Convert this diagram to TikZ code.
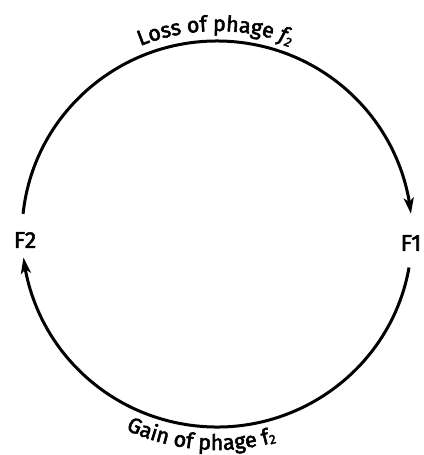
\documentclass[tikz,border=0pt]{standalone}
\usepackage{fontspec}
\setmainfont{Fira Sans}
\newfontfamily\medfont{Fira Sans}[FakeBold=2.5]
\usetikzlibrary{arrows.meta,decorations.text,bending,calc}
\begin{document}
\begin{tikzpicture}[x=1pt,y=1pt,
  cyc/.style={line width=3pt, -{Stealth[length=16pt,width=10pt,inset=4pt]}},
  lbl/.style={font=\medfont\fontsize{23}{26}\selectfont, inner sep=0pt}]
\useasboundingbox (0,0) rectangle (423,455);
\coordinate (C) at (217,221);
\node[lbl] (F2) at (25,215) {F2};
\node[lbl] (F1) at (411,212) {F1};
\coordinate (topS) at ($(C)+(174:195 and 193)$);
\coordinate (botS) at ($(C)+(350:195 and 193)$);
\draw[cyc] (topS) arc[start angle=174,end angle=6,x radius=195,y radius=193];
\draw[cyc] (botS) arc[start angle=350,end angle=187,x radius=195,y radius=193];
\path[decorate, decoration={text along path, text align=center,
  text={|\medfont\fontsize{21.5}{24}\selectfont|Loss of phage {\itshape f\raisebox{-0.25ex}{\fontsize{13}{14}\selectfont 2}}}}]
  ($(C)+(121:203)$) arc[start angle=121,end angle=60,radius=203];
\path[decorate, decoration={text along path, text align=center,
  text={|\medfont\fontsize{21.5}{24}\selectfont|Gain of phage {f\raisebox{-0.1ex}{\fontsize{13}{14}\selectfont 2}}}}]
  ($(C)+(238:216)$) arc[start angle=238,end angle=293,radius=216];
\end{tikzpicture}
\end{document}
